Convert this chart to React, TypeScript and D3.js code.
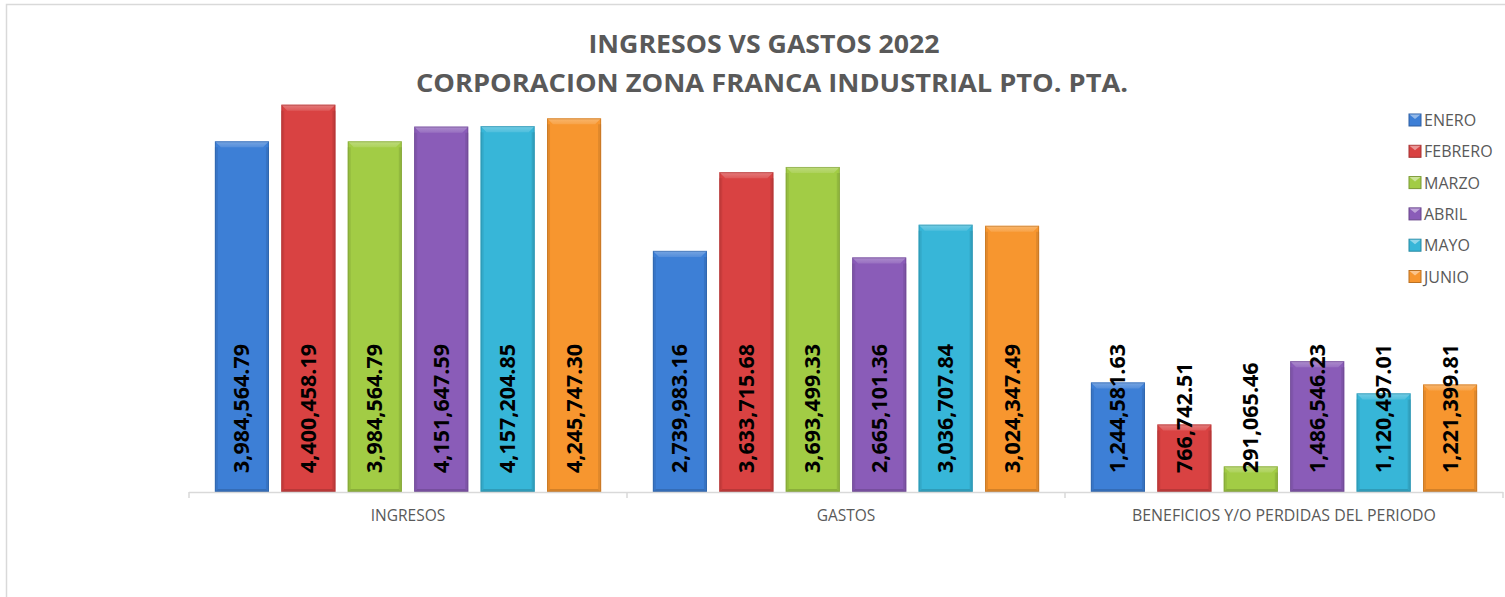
import React from "react";
import * as d3 from "d3";

const categories = ["INGRESOS", "GASTOS", "BENEFICIOS Y/O PERDIDAS DEL PERIODO"];
const months = ["ENERO", "FEBRERO", "MARZO", "ABRIL", "MAYO", "JUNIO"];
const ingresos = [3984564.79, 4400458.19, 3984564.79, 4151647.59, 4157204.85, 4245747.3];
const gastos = [2739983.16, 3633715.68, 3693499.33, 2665101.36, 3036707.84, 3024347.49];
const beneficios = [1244581.63, 766742.51, 291065.46, 1486546.23, 1120497.01, 1221399.81];
const seriesByCategory = [ingresos, gastos, beneficios];
const colors = ["#3d7fd6", "#d94242", "#a2cc45", "#8a5cb8", "#37b6d8", "#f7962f"];
const titleLines = ["INGRESOS VS GASTOS 2022", "CORPORACION ZONA FRANCA INDUSTRIAL PTO. PTA."];

const W = 1505;
const H = 597;
const fmt = (v: number) => d3.format(",.2f")(v);

export default function App() {
  const x0 = d3.scaleBand<string>().domain(categories).range([189, 1503]).padding(0);
  const x1 = d3
    .scaleBand<string>()
    .domain(months)
    .range([0, x0.bandwidth()])
    .paddingInner(0.186)
    .paddingOuter(0.39);
  const y = d3.scaleLinear().domain([0, 5000000]).range([492, 52]);
  const base = y(0);
  const gray = "#595959";
  const b = 6;

  const bars: any[] = [];
  categories.forEach((cat, ci) => {
    months.forEach((m, mi) => {
      const v = seriesByCategory[ci][mi];
      const x = (x0(cat) as number) + (x1(m) as number);
      const w = x1.bandwidth();
      const top = y(v);
      const h = base - top;
      const c = colors[mi];
      const light = d3.interpolateRgb(c, "#ffffff")(0.3);
      const dark = d3.color(c)!.darker(0.4).toString();
      const darker = d3.color(c)!.darker(1).toString();
      const gid = `bev${ci}_${mi}`;
      bars.push(
        <g key={cat + m}>
          <defs>
            <linearGradient id={gid} x1="0" y1="0" x2="0" y2="1">
              <stop offset="0" stopColor={light} />
              <stop offset="1" stopColor={d3.interpolateRgb(c, "#ffffff")(0.12)} />
            </linearGradient>
          </defs>
          <rect x={x} y={top} width={w} height={h} fill={c} />
          <polygon
            points={`${x},${top + b} ${x + 3},${top + b} ${x + 3},${base - 3} ${x},${base}`}
            fill={dark}
            opacity={0.55}
          />
          <polygon
            points={`${x + w},${top + b} ${x + w - 3},${top + b} ${x + w - 3},${base - 3} ${x + w},${base}`}
            fill={dark}
            opacity={0.7}
          />
          <polygon
            points={`${x},${top} ${x + w},${top} ${x + w - b},${top + b} ${x + b},${top + b}`}
            fill={`url(#${gid})`}
          />
          <polygon
            points={`${x},${base} ${x + w},${base} ${x + w - 3},${base - 3} ${x + 3},${base - 3}`}
            fill={darker}
            opacity={0.5}
          />
          <rect
            x={x + 0.5}
            y={top + 0.5}
            width={w - 1}
            height={h - 1}
            fill="none"
            stroke={darker}
            strokeOpacity={0.45}
            strokeWidth={1}
          />
          <text
            transform={`translate(${x + w / 2 + 7.5},${base - 19}) rotate(-90)`}
            fontFamily="'Open Sans', sans-serif"
            fontWeight="bold"
            fontSize={21.5}
            fill="#000"
          >
            {fmt(v)}
          </text>
        </g>
      );
    });
  });

  const ticks = [189, ...categories.map((c) => (x0(c) as number) + x0.bandwidth())];

  return (
    <svg
      width={W}
      height={H}
      style={{ position: "absolute", left: 0, top: 0, background: "#fff" }}
    >
      <rect x={0} y={0} width={W} height={H} fill="#fff" />
      <rect x={6.5} y={4.5} width={W + 20} height={H + 20} fill="none" stroke="#d9d9d9" strokeWidth={1.5} />
      <text
        x={764}
        y={53}
        textAnchor="middle"
        fontFamily="'Open Sans', sans-serif"
        fontWeight="bold"
        fontSize={25}
        fill={gray}
        textLength={351}
        lengthAdjust="spacingAndGlyphs"
      >
        {titleLines[0]}
      </text>
      <text
        x={772}
        y={92}
        textAnchor="middle"
        fontFamily="'Open Sans', sans-serif"
        fontWeight="bold"
        fontSize={25}
        fill={gray}
        textLength={712}
        lengthAdjust="spacingAndGlyphs"
      >
        {titleLines[1]}
      </text>
      {bars}
      <line x1={189} x2={1503} y1={base + 0.5} y2={base + 0.5} stroke="#d9d9d9" strokeWidth={1.5} />
      {ticks.map((t, i) => (
        <line key={i} x1={t} x2={t} y1={base} y2={base + 6} stroke="#d9d9d9" strokeWidth={1.5} />
      ))}
      {categories.map((c) => (
        <text
          key={c}
          x={(x0(c) as number) + x0.bandwidth() / 2}
          y={521}
          textAnchor="middle"
          fontFamily="'Open Sans', sans-serif"
          fontSize={15.5}
          fill={gray}
          textLength={c.length > 20 ? 304 : undefined}
          lengthAdjust="spacingAndGlyphs"
        >
          {c}
        </text>
      ))}
      {months.map((m, i) => {
        const yy = 114 + i * 31.3;
        const c = colors[i];
        return (
          <g key={m}>
            <rect x={1409} y={yy} width={12} height={12} fill={c} stroke={d3.color(c)!.darker(0.8).toString()} strokeWidth={1} />
            <polygon
              points={`${1409.5},${yy + 0.5} ${1420.5},${yy + 0.5} ${1415},${yy + 5}`}
              fill={d3.interpolateRgb(c, "#ffffff")(0.45)}
            />
            <text x={1424} y={yy + 12} fontFamily="'Open Sans', sans-serif" fontSize={16} fill={gray}>
              {m}
            </text>
          </g>
        );
      })}
    </svg>
  );
}
